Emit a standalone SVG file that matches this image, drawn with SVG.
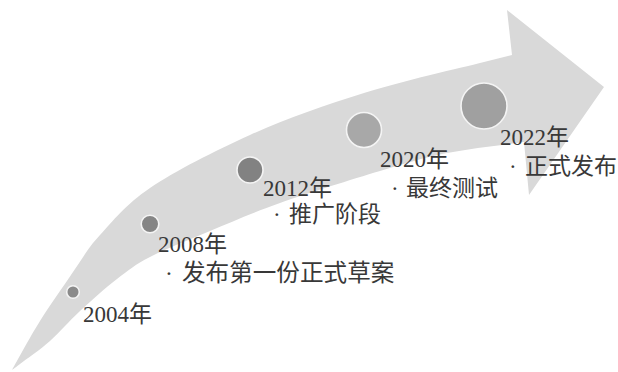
<svg xmlns="http://www.w3.org/2000/svg" width="618" height="372" viewBox="0 0 618 372">
<style>
.t{font-family:"Liberation Serif","Noto Sans CJK SC",serif;fill:#383838;font-size:23px}
.big{font-size:23.6px}
.dot{stroke:#f4f4f4;stroke-width:1.6}
</style>
<rect width="618" height="372" fill="#ffffff"/>
<g id="connectors">
<path id="arrow" fill="#d9d9d9" d="M12,370 C16.7,361.8 29.8,337.2 40,321 C50.2,304.8 63,287 73,272 C83,258 87.2,248.8 100,235 C112.8,221.2 125,205 150,188 C175,171 214.3,151.2 250,135 C285.7,118.8 325,105.2 364,93 C403,80.8 459.3,68.3 484,62 C493.3,59.7 502.7,57.3 512,55 L507,10 L604,87 L529,195 L524,142 C498.3,145.7 471,148.2 447,153 C423,157.8 407.8,162.7 380,171 C352.2,179.3 308.3,193 280,203 C251.7,213 231.7,222 210,231 C188.3,240 165.5,249 150,257 C134.5,265 128.7,270 117,279 C105.3,288 91.2,300.7 80,311 C68.8,321.3 60,332.2 50,341 C40,349.8 26.3,359.2 20,364 C13.7,368.8 14.7,368 12,370 Z"/>
</g>
<g id="n2004">
<circle class="dot" cx="73" cy="292" r="6.3" fill="#8a8a8a"/>
<text class="t" x="83" y="322">2004年</text>
</g>
<g id="n2008">
<circle class="dot" cx="150" cy="224" r="8.8" fill="#858585"/>
<text class="t" x="158" y="252">2008年</text>
<text class="t big" y="281"><tspan x="165">·</tspan><tspan x="182">发布第一份正式草案</tspan></text>
</g>
<g id="n2012">
<circle class="dot" cx="250" cy="170" r="13" fill="#828282"/>
<text class="t" x="263" y="196">2012年</text>
<text class="t" y="222"><tspan x="273">·</tspan><tspan x="289">推广阶段</tspan></text>
</g>
<g id="n2020">
<circle class="dot" cx="364" cy="130" r="17.5" fill="#a8a8a8"/>
<text class="t" x="380" y="167">2020年</text>
<text class="t" y="196"><tspan x="391">·</tspan><tspan x="406">最终测试</tspan></text>
</g>
<g id="n2022">
<circle class="dot" cx="484" cy="106" r="23" fill="#a0a0a0"/>
<text class="t" x="500" y="145">2022年</text>
<text class="t" y="174"><tspan x="509">·</tspan><tspan x="525">正式发布</tspan></text>
</g>
</svg>
